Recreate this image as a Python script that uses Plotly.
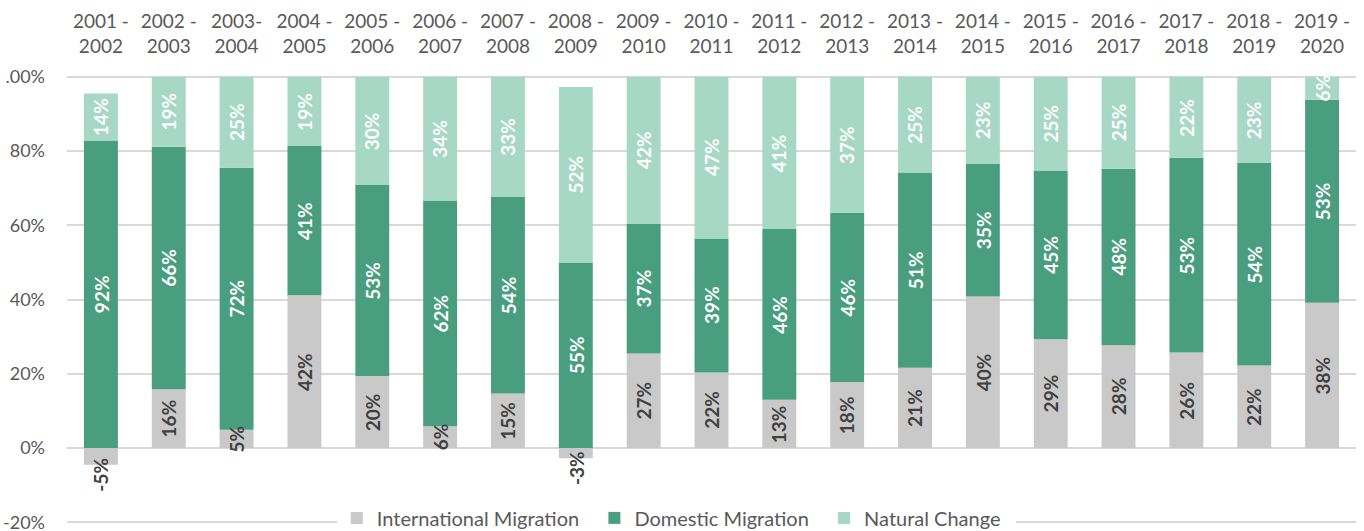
import plotly.graph_objects as go
import numpy as np

periods = ["2001 -<br>2002", "2002 -<br>2003", "2003-<br>2004", "2004 -<br>2005",
           "2005 -<br>2006", "2006 -<br>2007", "2007 -<br>2008", "2008 -<br>2009",
           "2009 -<br>2010", "2010 -<br>2011", "2011 -<br>2012", "2012 -<br>2013",
           "2013 -<br>2014", "2014 -<br>2015", "2015 -<br>2016", "2016 -<br>2017",
           "2017 -<br>2018", "2018 -<br>2019", "2019 -<br>2020"]
international = [-5, 16, 5, 42, 20, 6, 15, -3, 27, 22, 13, 18, 21, 40, 29, 28, 26, 22, 38]
domestic = [92, 66, 72, 41, 53, 62, 54, 55, 37, 39, 46, 46, 51, 35, 45, 48, 53, 54, 53]
natural = [14, 19, 25, 19, 30, 34, 33, 52, 42, 47, 41, 37, 25, 23, 25, 25, 22, 23, 6]
series_names = ["International Migration", "Domestic Migration", "Natural Change"]
y_tickvals = [-20, 0, 20, 40, 60, 80, 100]
y_ticktext = ["-20%", "0%", "20%", "40%", "60%", "80%", ".00%"]

FONT = "Lato"
GREY_TXT = "#595959"
C_INT = "#C9C9C9"
C_DOM = "#4A9E80"
C_NAT = "#A7D7C5"
Y_MIN, Y_MAX = -21.0, 100.5

intl = np.array(international, float)
dom = np.array(domestic, float)
nat = np.array(natural, float)
tot = np.abs(intl) + np.abs(dom) + np.abs(nat)
s_int = intl / tot * 100
s_dom = dom / tot * 100
s_nat = nat / tot * 100

PAD = "\u00a0" * 2
fig = go.Figure()
for name, vals, col in [(series_names[0], s_int, C_INT),
                        (series_names[1], s_dom, C_DOM),
                        (series_names[2], s_nat, C_NAT)]:
    fig.add_trace(go.Bar(x=periods, y=vals, name=name + PAD,
                         marker=dict(color=col, line=dict(width=0)), hoverinfo="skip"))

annotations = []
for i, p in enumerate(periods):
    pos_int = max(s_int[i], 0)
    if s_int[i] >= 0:
        annotations.append(dict(x=p, y=s_int[i] / 2, text=f"{international[i]}%",
                                font=dict(color="#404040")))
    else:
        annotations.append(dict(x=p, y=s_int[i], text=f"{international[i]}%", yshift=-10,
                                font=dict(color="#404040")))
    annotations.append(dict(x=p, y=pos_int + s_dom[i] / 2, text=f"{domestic[i]}%",
                            font=dict(color="white")))
    annotations.append(dict(x=p, y=pos_int + s_dom[i] + s_nat[i] / 2, text=f"{natural[i]}%",
                            font=dict(color="white")))
for a in annotations:
    a.update(xref="x", yref="y", showarrow=False, textangle=-90,
             xanchor="center", yanchor="middle")
    a["font"].update(family=FONT, size=19, weight="bold")

fig.update_layout(
    barmode="relative",
    bargap=0.5,
    width=1364, height=531,
    margin=dict(l=67, r=8, t=75, b=5, autoexpand=False),
    paper_bgcolor="white", plot_bgcolor="white",
    font=dict(family=FONT, size=19, color=GREY_TXT),
    annotations=annotations,
    legend=dict(orientation="h", x=0.2093, xanchor="left",
                y=0.018, yanchor="middle",
                bgcolor="white", font=dict(family=FONT, size=20, color=GREY_TXT),
                traceorder="normal"),
    xaxis=dict(side="top", showgrid=False, showline=False, ticks="", automargin=False,
               ticklabelstandoff=17,
               tickfont=dict(family=FONT, size=19, color=GREY_TXT)),
    yaxis=dict(range=[Y_MIN, Y_MAX], tickvals=y_tickvals, ticktext=y_ticktext,
               showgrid=True, gridcolor="#D9D9D9", gridwidth=1.5, zeroline=False,
               showline=False, ticks="", ticklabelstandoff=21, automargin=False,
               ticklabeloverflow="allow",
               tickfont=dict(family=FONT, size=18, color=GREY_TXT)),
)

fig.write_html("out.html", config={"displayModeBar": False},
               post_script="document.body.style.margin='0';")
